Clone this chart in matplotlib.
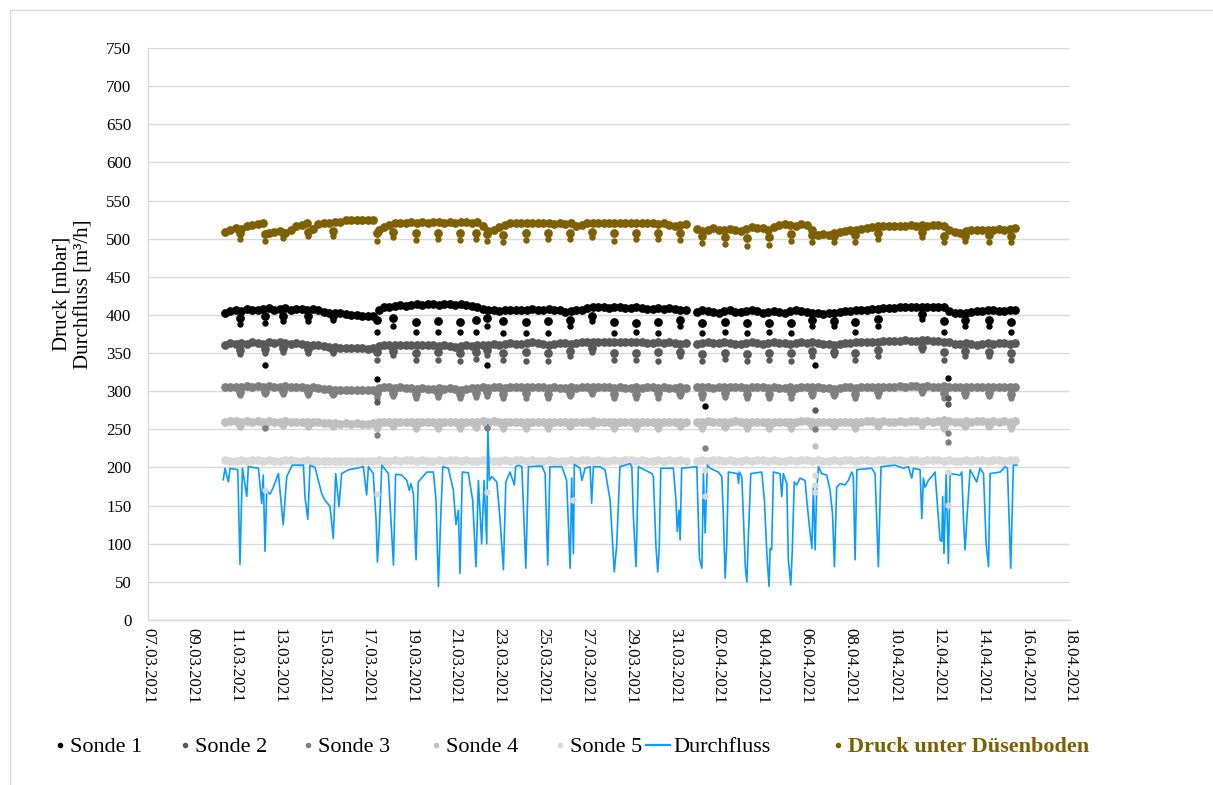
import numpy as np
import pandas as pd
import matplotlib
matplotlib.use('Agg')
import matplotlib.pyplot as plt
import matplotlib.dates as mdates
from matplotlib.lines import Line2D
from matplotlib.patches import Rectangle

plt.rcParams['font.family'] = ['Liberation Serif', 'DejaVu Serif']

nan = np.nan
t0 = pd.Timestamp('2021-03-07')

# probe readings every 6 h, 10.03. 12:00 .. 15.04. 12:00 (one row per day)
sonde1 = [
    403, 405,
    407, 405, 408, 407,  406, 408, 409, 407,  408, 409, 407, 408,  408, 407, 408, 406,
    404, 403, 402, 402,  401, 400, 400, 399,  398, 398, 407, 410,  411, 412, 413, 412,
    413, 414, 413, 414,  414, 413, 414, 414,  413, 414, 413, 412,  410, 408, 407, 406,
    405, 406, 407, 407,  406, 407, 408, 407,  407, 408, 407, 406,  404, 405, 406, 407,
    409, 410, 411, 410,  409, 410, 410, 409,  409, 410, 409, 408,  408, 409, 408, 409,
    408, 407, 406, nan,  404, 406, 405, 404,  403, 405, 406, 404,  404, 405, 406, 405,
    403, 404, 405, 404,  403, 405, 406, 405,  404, 403, 402, 401,  402, 403, 404, 405,
    405, 406, 407, 407,  408, 408, 409, 409,  409, 410, 410, 410,  410, 410, 411, 411,
    411, 410, 405, 403,  402, 403, 404, 405,  405, 406, 406, 405,
    405, 406, 406]
sonde2 = [
    361, 363,
    362, 363, 362, 364,  363, 362, 364, 363,  364, 363, 362, 363,  362, 361, 360, 360,
    359, 358, 358, 357,  357, 356, 356, 356,  355, 356, 359, 360,  360, 361, 360, 361,
    361, 360, 361, 360,  360, 359, 360, 359,  358, 359, 360, 359,  360, 361, 360, 362,
    361, 362, 363, 362,  362, 363, 364, 363,  362, 361, 362, 363,  363, 362, 363, 364,
    364, 365, 364, 365,  365, 364, 365, 364,  364, 365, 364, 363,  363, 364, 363, 364,
    363, 362, 363, nan,  362, 363, 364, 363,  363, 364, 363, 362,  362, 363, 364, 363,
    362, 363, 364, 363,  363, 362, 363, 364,  363, 364, 363, 362,  362, 361, 362, 363,
    363, 364, 364, 365,  365, 365, 366, 366,  366, 366, 367, 366,  366, 367, 367, 366,
    366, 365, 364, 362,  362, 363, 362, 361,  362, 363, 362, 363,
    363, 362, 363]
sonde3 = [
    305, 306,
    306, 305, 307, 306,  307, 306, 307, 306,  306, 307, 306, 305,  305, 304, 305, 304,
    303, 303, 302, 302,  302, 301, 302, 301,  301, 302, 304, 305,  305, 304, 305, 304,
    304, 303, 304, 303,  303, 304, 303, 304,  303, 302, 303, 304,  304, 305, 304, 305,
    305, 304, 305, 306,  306, 305, 306, 305,  305, 304, 305, 304,  304, 305, 304, 305,
    305, 306, 305, 306,  305, 304, 305, 304,  304, 305, 304, 305,  305, 304, 305, 304,
    304, 305, 304, nan,  305, 306, 305, 304,  305, 306, 305, 306,  305, 304, 305, 306,
    305, 304, 305, 304,  304, 305, 304, 305,  305, 306, 305, 304,  304, 303, 304, 305,
    305, 304, 305, 306,  306, 305, 306, 305,  306, 307, 306, 307,  307, 306, 307, 306,
    306, 307, 306, 305,  305, 306, 305, 306,  306, 305, 306, 305,
    306, 305, 306]
sonde4 = [
    260, 261,
    261, 260, 261, 260,  261, 260, 261, 260,  260, 261, 260, 260,  259, 260, 259, 259,
    258, 258, 258, 257,  258, 257, 258, 257,  257, 258, 259, 260,  260, 259, 260, 259,
    259, 260, 259, 260,  260, 259, 260, 259,  259, 260, 259, 260,  260, 261, 260, 261,
    260, 259, 260, 260,  260, 259, 260, 259,  259, 260, 259, 260,  260, 259, 260, 259,
    260, 261, 260, 259,  259, 260, 259, 260,  260, 259, 260, 259,  259, 260, 259, 260,
    259, 260, 259, nan,  259, 260, 261, 260,  260, 259, 260, 261,  260, 259, 260, 259,
    259, 260, 259, 260,  260, 259, 260, 261,  261, 260, 259, 260,  259, 260, 259, 260,
    260, 259, 260, 261,  261, 260, 261, 260,  260, 261, 260, 261,  261, 260, 261, 260,
    261, 262, 261, 260,  260, 261, 260, 261,  261, 260, 261, 260,
    261, 260, 261]
sonde5 = [
    210, 209,
    209, 210, 209, 210,  210, 209, 210, 209,  209, 210, 210, 209,  209, 210, 209, 209,
    209, 208, 209, 209,  208, 209, 209, 208,  209, 209, 210, 209,  209, 210, 209, 210,
    210, 209, 210, 209,  209, 210, 209, 210,  210, 209, 210, 209,  209, 210, 210, 209,
    209, 210, 209, 210,  210, 209, 210, 209,  209, 210, 209, 209,  209, 210, 209, 210,
    210, 209, 210, 209,  209, 210, 209, 210,  210, 209, 210, 209,  209, 210, 209, 210,
    209, 210, 209, nan,  209, 210, 209, 210,  210, 209, 210, 209,  209, 210, 209, 210,
    210, 209, 210, 209,  209, 210, 209, 210,  210, 209, 210, 209,  209, 210, 209, 210,
    210, 209, 210, 210,  209, 210, 210, 209,  210, 210, 209, 210,  210, 209, 210, 210,
    210, 209, 210, 209,  209, 210, 209, 210,  210, 209, 210, 210,
    209, 210, 210]
duesenboden = [
    509, 512,
    514, 513, 516, 518,  519, 520, 508, 509,  510, 508, 512, 516,  518, 521, 513, 519,
    520, 521, 522, 522,  524, 524, 524, 525,  525, 524, 512, 515,  518, 520, 521, 521,
    522, 521, 522, 521,  522, 522, 521, 522,  521, 522, 522, 521,  522, 516, 510, 512,
    515, 518, 520, 521,  521, 520, 521, 520,  521, 520, 519, 520,  519, 520, 517, 518,
    520, 521, 520, 521,  520, 521, 521, 520,  521, 520, 520, 521,  520, 519, 520, 518,
    517, 518, 519, nan,  513, 510, 512, 514,  512, 511, 513, 512,  510, 513, 515, 514,
    514, 512, 515, 518,  519, 518, 517, 519,  518, 512, 505, 506,  505, 507, 509, 510,
    511, 512, 513, 514,  515, 516, 516, 517,  517, 517, 517, 518,  517, 518, 517, 518,
    518, 517, 512, 509,  508, 510, 511, 512,  512, 511, 512, 513,
    512, 513, 514]

# daily pressure drops (days after 07.03.2021), intermediate and lowest reading
dip_days = [4.19, 5.33, 6.16, 7.28, 8.44, 10.45, 11.18, 12.21, 13.23, 14.21,
            14.94, 15.43, 16.19, 17.21, 18.21, 19.23, 20.21, 21.24, 22.23, 23.22,
            24.24, 25.23, 26.29, 27.28, 28.29, 29.28, 30.24, 31.27, 32.21, 33.27,
            35.25, 36.26, 37.22, 38.29, 39.30]
sonde1_dip = [396, 398, 399, 398, 399, 393, 396, 391, 392, 391, 393, 396, 392, 391, 392, 394, 399, 391,
              390, 391, 393, 389, 391, 389, 390, 390, 394, 392, 391, 395, 401, 392, 394, 393, 391]
sonde1_low = [388, 390, 392, 392, 393, 377, 386, 377, 377, 377, 378, 385, 376, 376, 376, 385, 392, 376,
              377, 376, 385, 376, 378, 376, 377, 376, 385, 385, 377, 385, 395, 377, 385, 385, 377]
sonde2_dip = [354, 355, 356, 355, 354, 351, 353, 350, 351, 350, 351, 354, 350, 351, 350, 353, 356, 350,
              350, 351, 352, 349, 350, 349, 350, 350, 353, 352, 350, 354, 358, 351, 353, 352, 350]
sonde2_low = [349, 350, 351, 350, 350, 341, 347, 341, 341, 340, 342, 347, 341, 340, 340, 346, 351, 341,
              341, 340, 346, 340, 342, 340, 341, 340, 346, 347, 341, 346, 354, 341, 346, 346, 341]
sonde3_dip = [299, 299, 300, 299, 298, 297, 298, 296, 297, 296, 297, 299, 296, 297, 296, 298, 300, 296,
              296, 297, 298, 296, 297, 296, 296, 297, 298, 298, 296, 299, 301, 297, 298, 298, 296]
sonde3_low = [295, 296, 296, 295, 295, 291, 294, 291, 292, 291, 292, 294, 291, 291, 291, 294, 296, 291,
              291, 291, 294, 291, 292, 291, 291, 291, 294, 294, 291, 294, 298, 291, 294, 294, 291]
sonde4_dip = [256, 256, 257, 256, 256, 255, 256, 254, 255, 254, 255, 256, 254, 255, 254, 256, 257, 254,
              254, 255, 256, 254, 255, 254, 254, 255, 256, 256, 254, 256, 258, 255, 256, 256, 254]
sonde4_low = [253, 253, 254, 253, 253, 251, 253, 251, 251, 251, 252, 253, 251, 251, 251, 253, 254, 251,
              251, 251, 253, 251, 252, 251, 251, 251, 253, 253, 251, 253, 255, 251, 253, 253, 251]
duesen_dip = [507, 506, 507, 509, 510, 508, 509, 507, 508, 507, 507, 506, 505, 507, 508, 508, 509, 507,
              508, 508, 507, 503, 502, 501, 502, 506, 505, 504, 505, 507, 509, 503, 504, 505, 504]
duesen_low = [500, 497, 501, 503, 504, 497, 502, 498, 500, 498, 499, 497, 495, 498, 500, 500, 502, 497,
              499, 500, 498, 494, 493, 491, 492, 497, 496, 495, 496, 499, 502, 495, 497, 496, 495]

# single outliers (days after 07.03.2021, value)
sonde1_out_days = [5.33, 10.45, 15.43, 25.38, 30.39, 36.46]
sonde1_out = [334, 316, 334, 281, 334, 317]
sonde2_out_days = [10.45, 30.39, 36.46, 36.46]
sonde2_out = [286, 276, 291, 283]
sonde3_out_days = [5.33, 10.45, 15.43, 25.38, 30.39, 36.46, 36.46]
sonde3_out = [252, 243, 252, 226, 250, 245, 233]
sonde4_out_days = [30.39]
sonde4_out = [228]
sonde5_out_days = [5.33, 10.45, 15.43, 19.38, 25.38, 25.38, 30.39, 30.39, 30.39, 36.46, 36.46]
sonde5_out = [170, 165, 168, 157, 197, 162, 190, 177, 168, 194, 151]

# flow rate [m3/h] (days after 07.03.2021, value)
flow_days = [
    3.43, 3.51, 3.66, 3.74, 4.09, 4.19, 4.30, 4.50, 4.57, 5.03, 5.18, 5.25, 5.33, 5.41, 5.56, 5.71,
    5.94, 6.16, 6.32, 6.57, 7.08, 7.15, 7.28, 7.38, 7.61, 7.91, 8.06, 8.29, 8.44, 8.55, 8.70, 8.82,
    9.13, 9.51, 9.81, 9.96, 10.04, 10.26, 10.39, 10.45, 10.54, 10.65, 10.95, 11.18, 11.28, 11.56,
    11.79, 11.90, 11.98, 12.09, 12.21, 12.31, 12.70, 13.00, 13.12, 13.23, 13.33, 13.43, 13.68,
    13.91, 14.03, 14.14, 14.21, 14.32, 14.59, 14.79, 14.94, 15.05, 15.20, 15.31, 15.43, 15.48,
    15.55, 15.66, 15.89, 16.04, 16.19, 16.30, 16.49, 16.69, 16.75, 16.87, 17.03, 17.21, 17.33,
    17.94, 18.09, 18.21, 18.31, 18.85, 19.07, 19.23, 19.30, 19.38, 19.42, 19.68, 19.77, 19.91,
    20.14, 20.21, 20.29, 20.59, 20.82, 21.05, 21.24, 21.35, 21.50, 21.96, 22.04, 22.11, 22.23,
    22.34, 22.95, 23.02, 23.14, 23.22, 23.29, 23.36, 23.93, 24.05, 24.11, 24.19, 24.24, 24.31,
    25.00, 25.12, 25.23, 25.30, 25.38, 25.48, 25.60, 25.98, 26.14, 26.21, 26.29, 26.36, 26.44,
    26.85, 26.90, 26.94, 27.05, 27.15, 27.21, 27.28, 27.35, 27.46, 27.96, 28.08, 28.19, 28.29,
    28.34, 28.41, 28.49, 28.79, 28.87, 28.94, 29.10, 29.17, 29.28, 29.35, 29.44, 29.55, 29.70,
    29.93, 30.01, 30.16, 30.24, 30.31, 30.39, 30.46, 30.54, 30.69, 30.92, 31.07, 31.18, 31.27,
    31.37, 31.53, 31.75, 31.90, 32.06, 32.13, 32.21, 32.29, 32.97, 33.12, 33.27, 33.39, 34.03,
    34.41, 34.64, 34.79, 34.87, 35.17, 35.25, 35.32, 35.40, 35.55, 35.70, 35.85, 36.00, 36.08,
    36.16, 36.20, 36.26, 36.36, 36.46, 36.54, 36.99, 37.07, 37.15, 37.22, 37.30, 37.45, 37.75,
    37.90, 38.06, 38.18, 38.29, 38.36, 38.82, 39.04, 39.15, 39.30, 39.42, 39.58]
flow = [
    184, 199, 181, 199, 197, 73, 199, 162, 201, 199, 153, 190, 90, 170, 165, 174,
    192, 125, 188, 203, 203, 162, 132, 203, 200, 166, 157, 149, 107, 192, 149, 192,
    197, 199, 201, 164, 201, 192, 131, 76, 122, 203, 192, 72, 191, 190,
    183, 170, 179, 166, 79, 181, 194, 194, 157, 44, 131, 201, 199,
    170, 125, 144, 61, 194, 193, 157, 70, 183, 100, 183, 100, 256,
    183, 188, 181, 131, 66, 181, 194, 177, 201, 203, 201, 68, 201,
    202, 192, 72, 201, 201, 183, 68, 186, 87, 204, 199, 183, 199,
    201, 153, 201, 201, 197, 157, 63, 98, 201, 205, 201, 136, 70,
    201, 192, 188, 96, 63, 96, 199, 199, 157, 116, 144, 105, 199,
    201, 81, 68, 192, 114, 203, 199, 194, 188, 136, 55, 96, 194,
    192, 179, 194, 188, 114, 70, 50, 110, 192, 194, 157, 87, 44,
    94, 92, 194, 192, 162, 192, 179, 79, 46, 92, 181, 177, 186,
    183, 157, 114, 94, 174, 92, 170, 201, 192, 190, 170, 140, 70,
    174, 179, 177, 183, 194, 188, 79, 197, 199, 192, 70, 201, 203,
    199, 201, 186, 199, 197, 133, 186, 174, 183, 188, 194, 136, 105,
    103, 162, 87, 192, 74, 192, 190, 194, 131, 92, 131, 197, 181,
    199, 192, 100, 70, 192, 194, 201, 199, 68, 203, 203]

c_s1, c_s2, c_s3, c_s4, c_s5 = '#000000', '#595959', '#7f7f7f', '#bfbfbf', '#d9d9d9'
c_flow = '#0a9bff'
c_duese = '#7f6000'


def days(d):
    return t0 + pd.to_timedelta(np.asarray(d), unit='D')


grid = pd.date_range('2021-03-10 12:00', '2021-04-15 12:00', freq='6h')
dip_t = days(dip_days)

W, H = 1213, 785
fig = plt.figure(figsize=(W / 100, H / 100), dpi=100)
ax = fig.add_axes([148 / W, 1 - 620 / H, 922 / W, 572 / H])

ms, ms_small = 6.3, 4.6
series = [(sonde1, sonde1_dip, sonde1_low, sonde1_out_days, sonde1_out, c_s1),
          (sonde2, sonde2_dip, sonde2_low, sonde2_out_days, sonde2_out, c_s2),
          (sonde3, sonde3_dip, sonde3_low, sonde3_out_days, sonde3_out, c_s3),
          (sonde4, sonde4_dip, sonde4_low, sonde4_out_days, sonde4_out, c_s4),
          (sonde5, None, None, sonde5_out_days, sonde5_out, c_s5)]
for base, dip, low, od, ov, col in series:
    ax.plot(grid, base, ls='none', marker='o', ms=ms, mec='none', mfc=col, zorder=2)
    if dip is not None:
        ax.plot(dip_t, dip, ls='none', marker='o', ms=ms, mec='none', mfc=col, zorder=2)
        ax.plot(dip_t, low, ls='none', marker='o', ms=ms_small, mec='none', mfc=col, zorder=2)
    ax.plot(days(od), ov, ls='none', marker='o', ms=ms_small, mec='none', mfc=col, zorder=4)

ax.plot(days(flow_days), flow, color=c_flow, lw=1.2, zorder=3)

ax.plot(grid, duesenboden, ls='none', marker='o', ms=ms, mec='none', mfc=c_duese, zorder=2)
ax.plot(dip_t, duesen_dip, ls='none', marker='o', ms=ms, mec='none', mfc=c_duese, zorder=2)
ax.plot(dip_t, duesen_low, ls='none', marker='o', ms=ms_small, mec='none', mfc=c_duese, zorder=2)

# axes
ax.set_ylim(0, 750)
ax.set_yticks(np.arange(0, 751, 50))
ax.set_xlim(pd.Timestamp('2021-03-07'), pd.Timestamp('2021-04-18'))
ax.set_xticks(pd.date_range('2021-03-07', '2021-04-18', freq='2D'))
ax.xaxis.set_major_formatter(mdates.DateFormatter('%d.%m.%Y'))
ax.tick_params(axis='x', labelrotation=270, length=0, pad=6, labelsize=12.2)
ax.tick_params(axis='y', length=0, pad=12, labelsize=12.2)
for lbl in ax.get_xticklabels():
    lbl.set_va('top')
ax.grid(axis='y', color='#d9d9d9', lw=1)
ax.set_axisbelow(True)
for s in ['top', 'right']:
    ax.spines[s].set_visible(False)
for s in ['left', 'bottom']:
    ax.spines[s].set_color('#d9d9d9')
    ax.spines[s].set_linewidth(1)
ax.set_ylabel('Druck [mbar]\nDurchfluss [m³/h]', fontsize=15, linespacing=1.2)
ax.yaxis.set_label_coords(-55 / 922, 0.57)

# legend row below the plot, positions in pixels
names = ['Sonde 1', 'Sonde 2', 'Sonde 3', 'Sonde 4', 'Sonde 5', 'Durchfluss',
         'Druck unter Düsenboden']
colors = [c_s1, c_s2, c_s3, c_s4, c_s5, c_flow, c_duese]
text_x = [70, 195, 318, 446, 570, 673, 848]
base_y = 1 - 752 / H
mark_y = 1 - 745 / H
for name, col, tx in zip(names, colors, text_x):
    bold = name.startswith('Druck')
    if name == 'Durchfluss':
        fig.add_artist(Line2D([(tx - 27) / W, (tx - 3) / W], [mark_y, mark_y], color=col, lw=1.6))
    else:
        fig.add_artist(Line2D([(tx - 10) / W], [mark_y], ls='none', marker='o', ms=3,
                              mfc=col, mec=col))
    fig.text(tx / W, base_y, name, fontsize=16, va='baseline', ha='left',
             color=c_duese if bold else 'black', fontweight='bold' if bold else 'normal')

# chart border
fig.patches.append(Rectangle((10 / W, -0.1), 1.1, 1 - 10 / H + 0.1, transform=fig.transFigure,
                             fill=False, ec='#d9d9d9', lw=1))

fig.savefig('out.png', dpi=100)
